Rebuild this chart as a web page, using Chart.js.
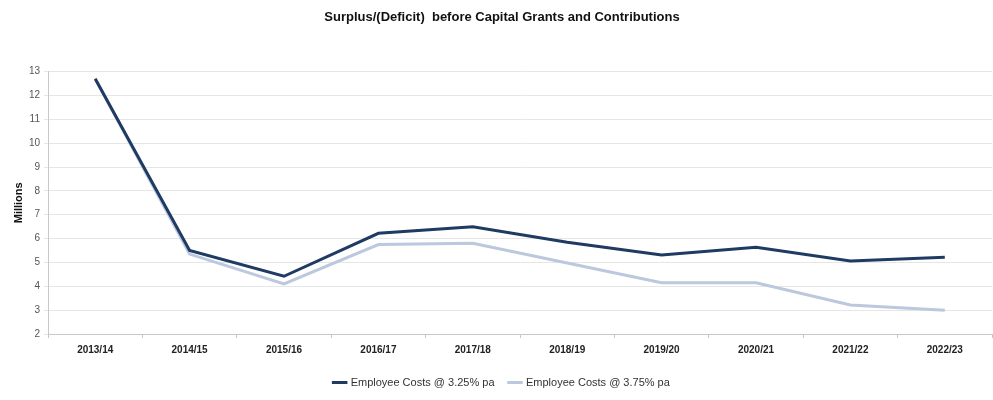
<!DOCTYPE html>
<html>
<head>
<meta charset="utf-8">
<script src="https://cdn.jsdelivr.net/npm/chart.js@4/dist/chart.umd.min.js"></script>
<style>
  html, body { margin: 0; padding: 0; background: #fff; }
  #wrap { width: 993px; height: 400px; }
</style>
</head>
<body>
<div id="wrap"><canvas id="chart"></canvas></div>
<script>
var years = ['2013/14', '2014/15', '2015/16', '2016/17', '2017/18', '2018/19', '2019/20', '2020/21', '2021/22', '2022/23'];
var costs325 = [12.7, 5.5, 4.42, 6.22, 6.5, 5.85, 5.31, 5.64, 5.06, 5.22];
var costs375 = [12.7, 5.35, 4.1, 5.75, 5.8, 4.98, 4.15, 4.15, 3.22, 3.0];
var yMin = 2, yMax = 13;

var font = "'Liberation Sans Narrow', 'Arial Narrow', 'Liberation Sans', Arial, sans-serif";

new Chart(document.getElementById('chart').getContext('2d'), {
    type: 'line',
    data: {
        labels: years,
        datasets: [
            {
                label: 'Employee Costs @ 3.25% pa',
                data: costs325,
                borderColor: '#1f3a63',
                backgroundColor: '#1f3a63',
                borderWidth: 3,
                pointRadius: 0,
                tension: 0,
                order: 1
            },
            {
                label: 'Employee Costs @ 3.75% pa',
                data: costs375,
                borderColor: '#bcc8de',
                backgroundColor: '#bcc8de',
                borderWidth: 3,
                pointRadius: 0,
                tension: 0,
                order: 2
            }
        ]
    },
    options: {
        responsive: true,
        maintainAspectRatio: false,
        animation: false,
        layout: { padding: { left: 12, right: 1, top: 0, bottom: 2 } },
        plugins: {
            title: {
                display: true,
                text: 'Surplus/(Deficit)  before Capital Grants and Contributions',
                color: '#111',
                font: { family: font, size: 13, weight: 'bold' },
                padding: { top: 10, bottom: 46 }
            },
            legend: {
                position: 'bottom',
                labels: {
                    usePointStyle: true,
                    pointStyle: 'line',
                    boxWidth: 24,
                    padding: 15,
                    color: '#333',
                    font: { family: font, size: 11 }
                }
            },
            tooltip: { enabled: false }
        },
        scales: {
            x: {
                offset: true,
                border: { display: true, color: '#c8c8c8' },
                grid: { display: true, drawOnChartArea: false, drawTicks: true, tickLength: 4, color: '#c8c8c8', offset: true },
                ticks: {
                    color: '#222',
                    maxRotation: 0,
                    padding: 6,
                    font: { family: font, size: 10, weight: 'bold' }
                }
            },
            y: {
                min: yMin,
                max: yMax,
                border: { display: true, color: '#c8c8c8' },
                grid: { color: '#e6e6e6', drawTicks: true, tickLength: 4 },
                ticks: {
                    stepSize: 1,
                    color: '#555',
                    padding: 4,
                    font: { family: font, size: 10 }
                },
                title: {
                    display: true,
                    text: 'Millions',
                    color: '#111',
                    padding: { top: 0, bottom: 4 },
                    font: { family: font, size: 11, weight: 'bold' }
                },
                afterFit: function (axis) { axis.width = 36; }
            }
        }
    }
});
</script>
</body>
</html>
